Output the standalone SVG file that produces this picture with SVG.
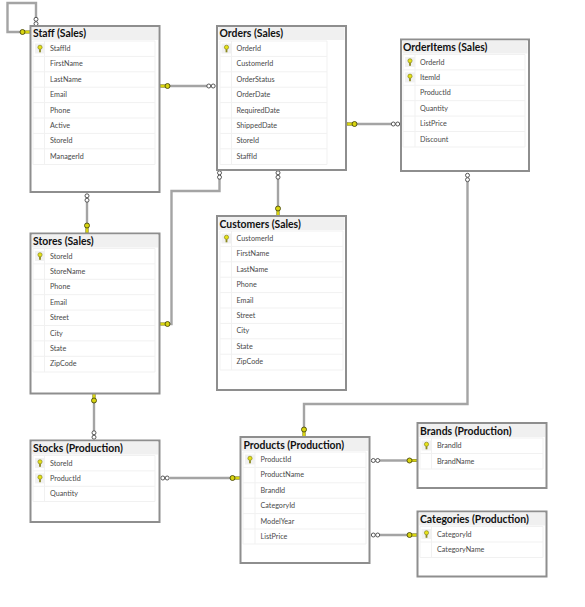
<svg xmlns="http://www.w3.org/2000/svg" width="585" height="607" viewBox="0 0 585 607">
<style>
.box{fill:#fff;stroke:#8e8e8e;stroke-width:2}
.head{fill:#f0f0f0}
.title{font:700 10.4px Lato,"Noto Sans",sans-serif;fill:#111}
.col{font:400 7.2px Lato,"Noto Sans",sans-serif;fill:#4a4a4a}
.sep{stroke:#f1f1f1;stroke-width:1}
.conn{fill:none;stroke:#a4a4a4;stroke-width:2.4}
.o{fill:#fff;stroke:#444;stroke-width:.9}
</style>
<defs>
<g id="pk"><rect x="-5" y="-5" width="10" height="10" fill="#f1f1f1"/><circle cx="0" cy="-1.2" r="2.1" fill="#e6e21a" stroke="#77770f" stroke-width=".6"/><rect x="-.9" y=".8" width="1.8" height="3" fill="#8c8a20"/></g>
<g id="fk"><rect x="-6" y="-1.3" width="6" height="2.6" fill="#d8d410" stroke="#6b6b10" stroke-width=".4"/><circle cx="1.5" cy="0" r="2.5" fill="#d8d410" stroke="#4c4c10" stroke-width=".9"/></g>
<g id="oo"><circle cx="-2.2" cy="0" r="2" class="o"/><circle cx="2.2" cy="0" r="2" class="o"/></g>
</defs>
<rect width="585" height="607" fill="#fff"/>

<g id="connectors">
<polyline class="conn" points="36,18 36,3 7.5,3 7.5,32 22,32"/>
<use href="#oo" transform="translate(36,21.500) rotate(90)"/><use href="#fk" transform="translate(24,32) rotate(180)"/>
<polyline class="conn" points="160,86 207,86"/>
<use href="#oo" transform="translate(211,86)"/><use href="#fk" transform="translate(166,86)"/>
<polyline class="conn" points="347,124 391,124"/>
<use href="#oo" transform="translate(395.500,124)"/><use href="#fk" transform="translate(353,124)"/>
<polyline class="conn" points="219.500,179 219.500,191 171.500,191 171.500,324 165,324"/>
<use href="#oo" transform="translate(219.500,175) rotate(90)"/><use href="#fk" transform="translate(166,324)"/>
<polyline class="conn" points="278,179 278,216"/>
<use href="#oo" transform="translate(278,175) rotate(90)"/><use href="#fk" transform="translate(278,210) rotate(-90)"/>
<polyline class="conn" points="87,202 87,233"/>
<use href="#oo" transform="translate(87,198) rotate(90)"/><use href="#fk" transform="translate(87,227) rotate(-90)"/>
<polyline class="conn" points="94,431 94,393"/>
<use href="#oo" transform="translate(94,435) rotate(90)"/><use href="#fk" transform="translate(94,399) rotate(90)"/>
<polyline class="conn" points="467.500,182 467.500,404 304,404 304,437"/>
<use href="#oo" transform="translate(467.500,177.500) rotate(90)"/><use href="#fk" transform="translate(304,431) rotate(-90)"/>
<polyline class="conn" points="170,478 240,478"/>
<use href="#oo" transform="translate(165,478)"/><use href="#fk" transform="translate(234,478) scale(-1,1)"/>
<polyline class="conn" points="380,460.500 417,460.500"/>
<use href="#oo" transform="translate(375.500,460.500)"/><use href="#fk" transform="translate(411,460.500) scale(-1,1)"/>
<polyline class="conn" points="380,535 417,535"/>
<use href="#oo" transform="translate(375.500,535)"/><use href="#fk" transform="translate(411,535) scale(-1,1)"/>
</g>

<g id="staff">
<rect class="box" x="30.500" y="26" width="129" height="166"/><rect class="head" x="32" y="27" width="126" height="13"/>
<text class="title" x="33" y="37">Staff (Sales)</text>
<path class="sep" d="M33 41H155V164.500H33ZM44.500 41V164.500M33 56.400H155M33 71.800H155M33 87.200H155M33 102.600H155M33 118H155M33 133.400H155M33 148.800H155" fill="none"/>
<use href="#pk" x="40" y="48.500"/>
<text class="col" x="50" y="51">StaffId</text><text class="col" x="50" y="66.400">FirstName</text><text class="col" x="50" y="81.800">LastName</text><text class="col" x="50" y="97.200">Email</text><text class="col" x="50" y="112.600">Phone</text><text class="col" x="50" y="128">Active</text><text class="col" x="50" y="143.400">StoreId</text><text class="col" x="50" y="158.800">ManagerId</text>
</g>

<g id="orders">
<rect class="box" x="217" y="26" width="129" height="144"/><rect class="head" x="218.500" y="27" width="126" height="13"/>
<text class="title" x="219.500" y="37">Orders (Sales)</text>
<path class="sep" d="M220 41H327V164.500H220ZM231.500 41V164.500M220 56.400H327M220 71.800H327M220 87.200H327M220 102.600H327M220 118H327M220 133.400H327M220 148.800H327" fill="none"/>
<use href="#pk" x="226.500" y="48.500"/>
<text class="col" x="236.500" y="51">OrderId</text><text class="col" x="236.500" y="66.400">CustomerId</text><text class="col" x="236.500" y="81.800">OrderStatus</text><text class="col" x="236.500" y="97.200">OrderDate</text><text class="col" x="236.500" y="112.600">RequiredDate</text><text class="col" x="236.500" y="128">ShippedDate</text><text class="col" x="236.500" y="143.400">StoreId</text><text class="col" x="236.500" y="158.800">StaffId</text>
</g>

<g id="orderitems">
<rect class="box" x="401" y="39.500" width="128" height="131.500"/><rect class="head" x="402.500" y="40.500" width="125" height="13"/>
<text class="title" x="403" y="51">OrderItems (Sales)</text>
<path class="sep" d="M403 54.500H525V147H403ZM415 54.500V147M403 69.900H525M403 85.300H525M403 100.700H525M403 116.100H525M403 131.500H525" fill="none"/>
<use href="#pk" x="410" y="62"/><use href="#pk" x="410" y="77.400"/>
<text class="col" x="420" y="64.500">OrderId</text><text class="col" x="420" y="79.900">ItemId</text><text class="col" x="420" y="95.300">ProductId</text><text class="col" x="420" y="110.700">Quantity</text><text class="col" x="420" y="126.100">ListPrice</text><text class="col" x="420" y="141.500">Discount</text>
</g>

<g id="customers">
<rect class="box" x="217" y="216" width="129" height="174"/><rect class="head" x="218.500" y="217" width="126" height="13"/>
<text class="title" x="219.500" y="227.500">Customers (Sales)</text>
<path class="sep" d="M220 231H343V370H220ZM231.500 231V370M220 246.400H343M220 261.800H343M220 277.200H343M220 292.600H343M220 308H343M220 323.400H343M220 338.800H343M220 354.200H343" fill="none"/>
<use href="#pk" x="226.500" y="238.500"/>
<text class="col" x="236.500" y="241">CustomerId</text><text class="col" x="236.500" y="256.400">FirstName</text><text class="col" x="236.500" y="271.800">LastName</text><text class="col" x="236.500" y="287.200">Phone</text><text class="col" x="236.500" y="302.600">Email</text><text class="col" x="236.500" y="318">Street</text><text class="col" x="236.500" y="333.400">City</text><text class="col" x="236.500" y="348.800">State</text><text class="col" x="236.500" y="364.200">ZipCode</text>
</g>

<g id="stores">
<rect class="box" x="30.500" y="233.500" width="129" height="160"/><rect class="head" x="32" y="234.500" width="126" height="13"/>
<text class="title" x="33" y="245">Stores (Sales)</text>
<path class="sep" d="M33 248.500H155V372H33ZM44.500 248.500V372M33 263.900H155M33 279.300H155M33 294.700H155M33 310.100H155M33 325.500H155M33 340.900H155M33 356.300H155" fill="none"/>
<use href="#pk" x="40" y="256"/>
<text class="col" x="50" y="258.500">StoreId</text><text class="col" x="50" y="273.900">StoreName</text><text class="col" x="50" y="289.300">Phone</text><text class="col" x="50" y="304.700">Email</text><text class="col" x="50" y="320.100">Street</text><text class="col" x="50" y="335.500">City</text><text class="col" x="50" y="350.900">State</text><text class="col" x="50" y="366.300">ZipCode</text>
</g>

<g id="stocks">
<rect class="box" x="30.500" y="440.500" width="129" height="81.500"/><rect class="head" x="32" y="441.500" width="126" height="13"/>
<text class="title" x="33" y="452">Stocks (Production)</text>
<path class="sep" d="M33 455.500H155V501.500H33ZM44.500 455.500V501.500M33 470.900H155M33 486.300H155" fill="none"/>
<use href="#pk" x="40" y="463"/><use href="#pk" x="40" y="478.400"/>
<text class="col" x="50" y="465.500">StoreId</text><text class="col" x="50" y="480.900">ProductId</text><text class="col" x="50" y="496.300">Quantity</text>
</g>

<g id="products">
<rect class="box" x="240.500" y="437" width="129" height="126"/><rect class="head" x="242" y="438" width="126" height="13"/>
<text class="title" x="243.500" y="448.500">Products (Production)</text>
<path class="sep" d="M243 452H366V544H243ZM255 452V544M243 467.400H366M243 482.800H366M243 498.200H366M243 513.600H366M243 529H366" fill="none"/>
<use href="#pk" x="250" y="459.500"/>
<text class="col" x="260.500" y="462">ProductId</text><text class="col" x="260.500" y="477.400">ProductName</text><text class="col" x="260.500" y="492.800">BrandId</text><text class="col" x="260.500" y="508.200">CategoryId</text><text class="col" x="260.500" y="523.600">ModelYear</text><text class="col" x="260.500" y="539">ListPrice</text>
</g>

<g id="brands">
<rect class="box" x="417.500" y="423" width="129" height="65"/><rect class="head" x="419" y="424" width="126" height="13"/>
<text class="title" x="420" y="434.500">Brands (Production)</text>
<path class="sep" d="M420 438H543V469H420ZM431.500 438V469M420 453.500H543" fill="none"/>
<use href="#pk" x="426.500" y="445.500"/>
<text class="col" x="437" y="448">BrandId</text><text class="col" x="437" y="463.500">BrandName</text>
</g>

<g id="categories">
<rect class="box" x="417.500" y="511.500" width="129" height="65"/><rect class="head" x="419" y="512.500" width="126" height="13"/>
<text class="title" x="420" y="523">Categories (Production)</text>
<path class="sep" d="M420 526.500H543V557.500H420ZM431.500 526.500V557.500M420 542H543" fill="none"/>
<use href="#pk" x="426.500" y="534"/>
<text class="col" x="437" y="536.500">CategoryId</text><text class="col" x="437" y="552">CategoryName</text>
</g>
</svg>
